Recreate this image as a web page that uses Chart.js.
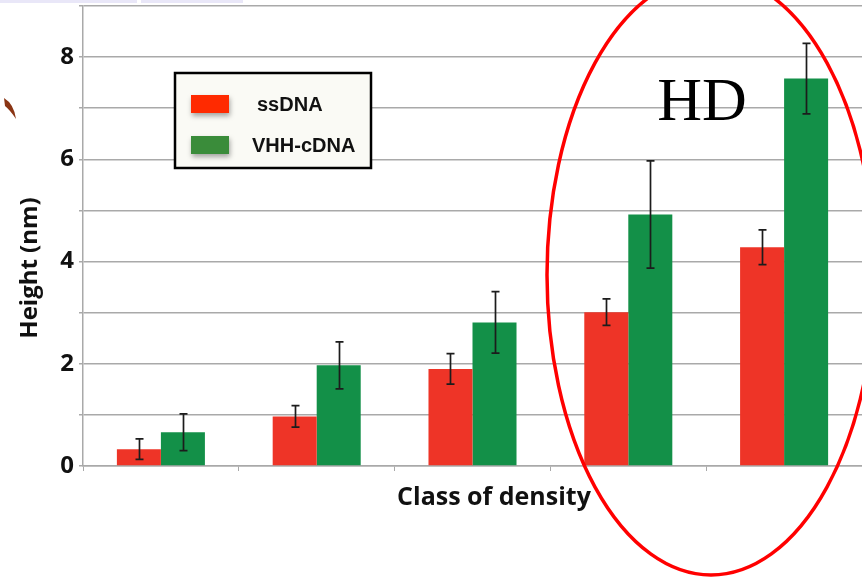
<!DOCTYPE html>
<html>
<head>
<meta charset="utf-8">
<script src="https://cdn.jsdelivr.net/npm/chart.js@4/dist/chart.umd.min.js"></script>
<style>
  html, body { margin: 0; padding: 0; background: #ffffff; }
  #wrap { width: 862px; height: 577px; position: relative; }
</style>
</head>
<body>
<div id="wrap"><canvas id="c" width="862" height="577"></canvas></div>
<script>
// Density classes (unlabelled on the axis)
const categories = ['1', '2', '3', '4', '5'];

// Mean heights (nm) per class
const ssDNA = [0.33, 0.97, 1.90, 3.01, 4.28];
const vhhCDNA = [0.66, 1.97, 2.81, 4.92, 7.58];

// Error bar half-lengths (nm)
const ssDNAErr = [0.20, 0.21, 0.30, 0.26, 0.34];
const vhhCDNAErr = [0.36, 0.46, 0.60, 1.05, 0.69];

const seriesLabels = ['ssDNA', 'VHH-cDNA'];
const yTitle = 'Height (nm)';
const xTitle = 'Class of density';
const noteText = 'HD';

const barColors = ['#ee3427', '#139048'];
const swatchColors = ['#ff2a00', '#3a8c3a'];
const gridColor = '#a9a9a9';
const labelFont = '"Open Sans", "DejaVu Sans", sans-serif';

const errorBars = {
  id: 'errorBars',
  afterDatasetsDraw(chart) {
    const ctx = chart.ctx;
    const y = chart.scales.y;
    ctx.save();
    ctx.strokeStyle = '#1c1c1c';
    ctx.lineWidth = 1.7;
    chart.data.datasets.forEach((ds, i) => {
      const meta = chart.getDatasetMeta(i);
      meta.data.forEach((bar, j) => {
        const v = ds.data[j], e = ds.errors[j];
        const yt = y.getPixelForValue(v + e);
        const yb = y.getPixelForValue(v - e);
        const x = Math.round(bar.x) + 0.5;
        ctx.beginPath();
        ctx.moveTo(x, yt); ctx.lineTo(x, yb);
        ctx.moveTo(x - 4, yt); ctx.lineTo(x + 4, yt);
        ctx.moveTo(x - 4, yb); ctx.lineTo(x + 4, yb);
        ctx.stroke();
      });
    });
    ctx.restore();
  }
};

const decorations = {
  id: 'decorations',
  beforeDraw(chart) {
    const ctx = chart.ctx;
    ctx.save();
    ctx.fillStyle = '#ffffff';
    ctx.fillRect(0, 0, chart.width, chart.height);
    // pale strip along the top edge
    ctx.fillStyle = '#e9e7f8';
    ctx.fillRect(0, 0, 137, 3);
    ctx.fillRect(141, 0, 102, 3);
    // small brown fleck at the left edge
    ctx.fillStyle = '#8a3514';
    ctx.beginPath();
    ctx.moveTo(4, 98);
    ctx.quadraticCurveTo(14, 104, 16, 119);
    ctx.quadraticCurveTo(10, 110, 5, 106);
    ctx.closePath();
    ctx.fill();
    ctx.restore();
  },
  afterDraw(chart) {
    const ctx = chart.ctx;
    ctx.save();

    // axis titles
    ctx.fillStyle = '#111111';
    ctx.font = 'bold 25px ' + labelFont;
    ctx.textAlign = 'center';
    ctx.textBaseline = 'alphabetic';
    ctx.fillText(xTitle, 494, 505);
    ctx.font = 'bold 24px ' + labelFont;
    ctx.save();
    ctx.translate(37, 268);
    ctx.rotate(-Math.PI / 2);
    ctx.fillText(yTitle, 0, 0);
    ctx.restore();

    // legend box
    ctx.fillStyle = '#fafaf5';
    ctx.fillRect(175, 73, 196, 95);
    ctx.strokeStyle = '#000000';
    ctx.lineWidth = 2.5;
    ctx.strokeRect(175, 73, 196, 95);
    const rows = [104, 145];
    seriesLabels.forEach((lab, i) => {
      ctx.save();
      ctx.shadowColor = 'rgba(0,0,0,0.35)';
      ctx.shadowBlur = 5;
      ctx.shadowOffsetX = 1;
      ctx.shadowOffsetY = 3;
      ctx.fillStyle = swatchColors[i];
      ctx.fillRect(191, rows[i] - 9, 38, 18);
      ctx.restore();
      ctx.fillStyle = '#111111';
      ctx.font = 'bold 20px "Liberation Sans", Arial, sans-serif';
      ctx.textAlign = 'left';
      ctx.textBaseline = 'middle';
      ctx.fillText(lab, i === 0 ? 257 : 252, rows[i] + 1);
    });

    // annotation
    ctx.fillStyle = '#000000';
    ctx.font = '62px "Liberation Serif", "Times New Roman", serif';
    ctx.textAlign = 'center';
    ctx.textBaseline = 'alphabetic';
    ctx.fillText(noteText, 702, 120);

    ctx.strokeStyle = '#ff0000';
    ctx.lineWidth = 3.5;
    ctx.beginPath();
    ctx.ellipse(711, 275, 164, 300, 0, 0, Math.PI * 2);
    ctx.stroke();

    ctx.restore();
  }
};

new Chart(document.getElementById('c'), {
  type: 'bar',
  data: {
    labels: categories,
    datasets: [
      { label: seriesLabels[0], data: ssDNA, errors: ssDNAErr, backgroundColor: barColors[0] },
      { label: seriesLabels[1], data: vhhCDNA, errors: vhhCDNAErr, backgroundColor: barColors[1] }
    ]
  },
  options: {
    responsive: false,
    animation: false,
    devicePixelRatio: 1,
    layout: { padding: { top: 6, right: 0, left: 0, bottom: 0 } },
    datasets: { bar: { categoryPercentage: 0.565, barPercentage: 1.0, borderWidth: 0 } },
    plugins: { legend: { display: false }, tooltip: { enabled: false } },
    scales: {
      x: {
        grid: { display: true, drawOnChartArea: false, drawTicks: true, tickLength: 5, color: gridColor, offset: true },
        border: { color: gridColor, width: 1.5 },
        ticks: { display: false },
        afterFit(s) { s.height = 111; s.paddingLeft = 0; s.paddingRight = 0; }
      },
      y: {
        min: 0, max: 9,
        grid: { color: gridColor, lineWidth: 1.5, tickLength: 4 },
        border: { color: gridColor, width: 1.5 },
        ticks: {
          stepSize: 1,
          padding: 5,
          color: '#111111',
          font: { family: labelFont, size: 24, weight: 'bold' },
          callback: v => (v % 2 === 0 ? String(v) : '')
        },
        afterFit(s) { s.width = 83; s.paddingTop = 0; s.paddingBottom = 0; }
      }
    }
  },
  plugins: [decorations, errorBars]
});
</script>
</body>
</html>
